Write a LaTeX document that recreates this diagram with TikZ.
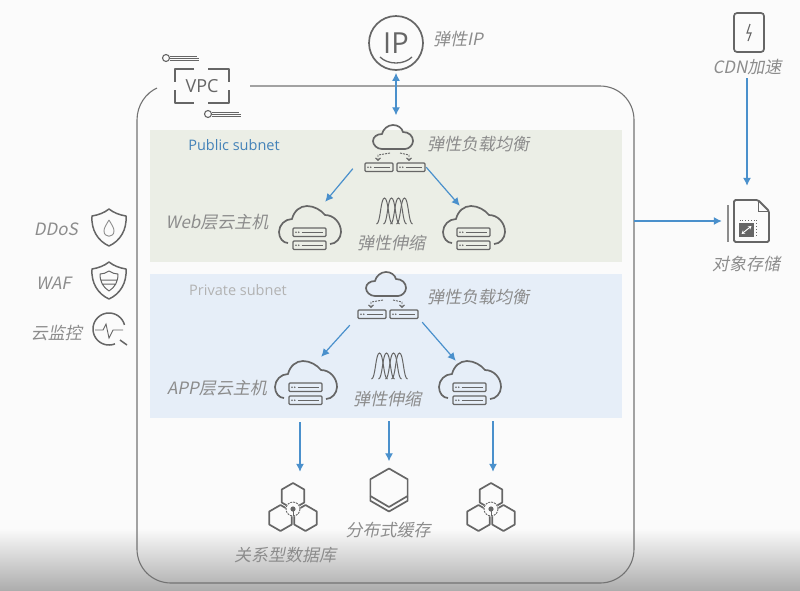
\documentclass[tikz,border=0pt]{standalone}
\usepackage{fontspec}
\usetikzlibrary{arrows.meta}
\newfontfamily\cjk[FakeSlant=0.2]{Noto Sans CJK SC}
\newfontfamily\lat{Open Sans}
\definecolor{pagebg}{HTML}{FBFBFB}
\definecolor{pubbg}{HTML}{EBEEE6}
\definecolor{pribg}{HTML}{E6EEF8}
\definecolor{iconc}{HTML}{666666}
\definecolor{labelc}{HTML}{8C8C8C}
\definecolor{arrowc}{HTML}{4A90CC}
\newcommand{\srvbar}[3]{
  \draw[iconline,rounded corners=1pt] (#1,#2) rectangle ++(#3,8.5);
  \fill[iconc] (#1+3,#2+4.2) circle (0.9) (#1+5.8,#2+4.2) circle (0.9);
  \draw[thinline] (#1+8.5,#2+4.2) -- ++(#3-11.5,0);
}
\newcommand{\hexpath}[3]{
  \draw[iconline,line width=1.7pt] (#1,#2-#3) -- ++(0.866*#3,0.5*#3) -- ++(0,#3) -- ++(-0.866*#3,0.5*#3) -- ++(-0.866*#3,-0.5*#3) -- ++(0,-#3) -- cycle;
}
\tikzset{
  cloudsrv/.pic={
    \draw[iconline,line width=1.7pt] (-22,15) .. controls (-27,15) and (-31,10) .. (-31,4) .. controls (-31,-3) and (-25,-9) .. (-18,-9) .. controls (-16,-17) and (-10,-22) .. (-3,-22) .. controls (4,-22) and (11,-18) .. (15,-13) .. controls (24,-13) and (31,-5) .. (31,4) .. controls (31,10) and (26,16) .. (20,16);
    \srvbar{-17}{0}{33}
    \srvbar{-17}{13}{33}
  },
  cloudlb/.pic={
    \draw[iconline,line width=1.7pt] (-13,1) .. controls (-18,1) and (-22,-3) .. (-22,-7) .. controls (-22,-11) and (-18,-14) .. (-13,-14) .. controls (-12,-19) and (-7,-23) .. (-2,-23) .. controls (3,-23) and (7,-20) .. (8,-16) .. controls (14,-16) and (18,-12) .. (18,-7) .. controls (18,-3) and (14,1) .. (10,1) -- cycle;
    \draw[thinline,dash pattern=on 2pt off 1pt,-{Straight Barb[length=2.5pt,width=5pt]}] (-5,5) -- (-17,7) -- (-17,13);
    \draw[thinline,dash pattern=on 2pt off 1pt,-{Straight Barb[length=2.5pt,width=5pt]}] (5,5) -- (14,7) -- (14,13);
    \srvbar{-30}{15}{28}
    \srvbar{2}{15}{28}
  },
  scalecurve/.pic={
    \foreach \c in {-10,-3,4,10}{
      \draw[thinline,line width=1pt] (\c-8,13) .. controls (\c-4,13) and (\c-4,-13) .. (\c,-13) .. controls (\c+4,-13) and (\c+4,13) .. (\c+8,13);
    }
  },
  dbicon/.pic={
    \hexpath{0}{-12}{13}
    \hexpath{-12.5}{10}{13}
    \hexpath{12.5}{10}{13}
    \fill[pagebg] (0,1) circle (7.5);
    \draw[thinline,dash pattern=on 2pt off 1pt] (0,1) circle (7);
    \fill[iconc] (0,1) circle (2.6);
    \draw[thinline] (0,1) -- (0,8);
  },
  cacheicon/.pic={
    \hexpath{0}{0}{21.5}
    \draw[iconline,line width=1.7pt] (-18.6,6) -- (0,17) -- (18.6,6);
  },
  shieldout/.pic={
    \draw[iconline,line width=1.5pt] (0,-18) .. controls (5,-14) and (11,-12) .. (17,-11) .. controls (18,3) and (11,14) .. (0,19) .. controls (-11,14) and (-18,3) .. (-17,-11) .. controls (-11,-12) and (-5,-14) .. cycle;
  },
  watchicon/.pic={
    \draw[iconline,line width=1.5pt] plot[domain=68:345,samples=40,smooth] ({16*cos(\x)},{16*sin(\x)});
    \draw[iconline,line width=1.5pt] (11,11) -- (18,16);
    \draw[thinline] (-14,1) -- (-6,1) -- (-3,-5) -- (0,9) -- (4,1) -- (14,1);
  },
  bitlines/.pic={
    \draw[thinline,line width=1.1pt] (0,0) circle (3.5);
    \draw[thinline,line width=0.7pt] (4,-2) -- (31,-2) (4,0) -- (33,0) (4,2) -- (33,2);
  },
  fileicon/.pic={
    \draw[iconline,color=labelc] (-20.5,-16) -- (-20.5,21);
    \draw[iconline,line width=1.8pt,rounded corners=1.5pt] (-14.5,21) -- (-14.5,-21) -- (9.5,-21) -- (20.5,-10) -- (20.5,21) -- cycle;
    \draw[thinline] (9.5,-21) -- (9.5,-10) -- (20.5,-10);
    \fill[iconc] (-10,2) rectangle (5.5,16);
    \draw[white,line width=0.9pt,{Stealth[length=3.5pt,width=4pt]}-{Stealth[length=3.5pt,width=4pt]}] (-7,13) -- (3,5);
    \draw[thinline,dotted] (-9,-1) -- (8,-1) -- (8,15);
  }
}
\begin{document}
\begin{tikzpicture}[x=1pt,y=-1pt]
\tikzstyle{iconline}=[draw=iconc,line width=1.3pt,line join=round]
\tikzstyle{thinline}=[draw=iconc,line width=0.9pt]
\tikzstyle{iconbox}=[rectangle,inner sep=0pt,minimum width=60pt,minimum height=47pt]
\tikzstyle{lbl}=[text=labelc,inner sep=0pt,font=\cjk\fontsize{17}{17}\selectfont]
\tikzstyle{blue arrow}=[draw=arrowc,line width=1.2pt,-{Latex[length=8pt,width=8pt]}]
\useasboundingbox (0,0) rectangle (800,590);
\fill[pagebg] (0,0) rectangle (800,590);
\shade[top color=pagebg,bottom color=black!32] (0,528) rectangle (800,590);
\node[rectangle,fill=pubbg,minimum width=472pt,minimum height=132pt,inner sep=0pt] (pubnet) at (386,196) {};
\node[rectangle,fill=pribg,minimum width=472pt,minimum height=144pt,inner sep=0pt] (prinet) at (386,346) {};
\draw[draw=black!55,line width=1.1pt] (250,86) -- (600,86) .. controls (619,86) and (634,101) .. (634,120) -- (634,549) .. controls (634,568) and (619,583) .. (600,583) -- (171,583) .. controls (152,583) and (137,568) .. (137,549) -- (137,120) .. controls (137,105) and (146,93) .. (157,88);
\coordinate (vpcedge) at (634,221);

\node[rectangle,inner sep=0pt,minimum width=54pt,minimum height=34pt,text=iconc,font=\lat\fontsize{18}{18}\selectfont] (vpc) at (202,86) {VPC};
\draw[iconline,line width=1.8pt] (194,69) -- (175,69) -- (175,82) (175,90) -- (175,103) -- (194,103) (208,69) -- (229,69) -- (229,82) (229,90) -- (229,103) -- (208,103);
\pic at (166,58) {bitlines};
\pic at (208,114) {bitlines};

\node[circle,draw=iconc,line width=1.7pt,minimum size=54pt,inner sep=0pt,text=iconc,font=\lat\fontsize{29}{29}\selectfont] (ip) at (396,43) {IP};
\draw[iconline] (380,57) .. controls (388,65) and (404,65) .. (412,57);
\node[lbl,anchor=west] (iplbl) at (433,39) {弹性IP};

\node[rectangle,inner sep=0pt,minimum width=30pt,minimum height=39pt,draw=iconc,line width=1.7pt,rounded corners=3pt] (cdn) at (749,32.5) {};
\draw[thinline,line width=1.1pt] (750,24) -- (747,33) -- (751,33) -- (748,41);
\node[lbl] (cdnlbl) at (747,67) {CDN加速};

\node[iconbox,minimum width=41pt,minimum height=42pt] (obs) at (748.5,221) {};
\pic at (obs) {fileicon};
\node[lbl] (obslbl) at (746,264) {对象存储};

\node[text=arrowc!90!black,inner sep=0pt,font=\lat\fontsize{14.5}{15}\selectfont] (publbl) at (234,145) {Public subnet};
\node[text=black!30,inner sep=0pt,font=\lat\fontsize{14.5}{15}\selectfont] (prilbl) at (238,290) {Private subnet};

\node[iconbox] (lbpub) at (395,148) {};
\pic at (lbpub) {cloudlb};
\node[lbl,anchor=west] (lbpublbl) at (427,144) {弹性负载均衡};
\node[iconbox,minimum width=62pt,minimum height=46pt] (webl) at (310,228) {};
\pic at (webl) {cloudsrv};
\node[iconbox,minimum width=62pt,minimum height=46pt] (webr) at (474,228) {};
\pic at (webr) {cloudsrv};
\node[lbl] (weblbl) at (217,222) {Web层云主机};
\node[iconbox,minimum width=36pt,minimum height=27pt] (scalepub) at (394.5,211) {};
\pic at (scalepub) {scalecurve};
\node[lbl] (scalepublbl) at (391,243) {弹性伸缩};

\node[iconbox] (lbpri) at (388,295) {};
\pic at (lbpri) {cloudlb};
\node[lbl,anchor=west] (lbprilbl) at (427,297) {弹性负载均衡};
\node[iconbox,minimum width=62pt,minimum height=46pt] (appl) at (306,383) {};
\pic at (appl) {cloudsrv};
\node[iconbox,minimum width=62pt,minimum height=46pt] (appr) at (470,383) {};
\pic at (appr) {cloudsrv};
\node[lbl] (applbl) at (217,388) {APP层云主机};
\node[iconbox,minimum width=36pt,minimum height=27pt] (scalepri) at (389.5,366) {};
\pic at (scalepri) {scalecurve};
\node[lbl] (scaleprilbl) at (387,399) {弹性伸缩};

\node[iconbox,minimum width=50pt,minimum height=48pt] (dbl) at (293,508) {};
\pic at (dbl) {dbicon};
\node[iconbox,minimum width=40pt,minimum height=43pt] (cache) at (389,490) {};
\pic at (cache) {cacheicon};
\node[iconbox,minimum width=50pt,minimum height=48pt] (dbr) at (491,508) {};
\pic at (dbr) {dbicon};
\node[lbl] (dblbl) at (285,555) {关系型数据库};
\node[lbl] (cachelbl) at (388,530) {分布式缓存};

\node[iconbox,minimum width=34pt,minimum height=37pt] (ddos) at (109,227) {};
\pic at (ddos) {shieldout};
\draw[iconline,line width=0.9pt,color=labelc] (109,220) .. controls (112,225) and (114,228) .. (114,231) .. controls (114,238) and (104,238) .. (104,231) .. controls (104,228) and (106,225) .. (109,220);
\node[iconbox,minimum width=34pt,minimum height=37pt] (waf) at (109,280) {};
\pic at (waf) {shieldout};
\draw[iconline,line width=1pt,color=iconc] (109,271) .. controls (112,273) and (115,274) .. (118,274) .. controls (118,282) and (115,287) .. (109,291) .. controls (103,287) and (100,282) .. (100,274) .. controls (103,274) and (106,273) .. (109,271) (101,280) -- (117,280) (102,284) -- (116,284);
\node[iconbox,minimum width=34pt,minimum height=34pt] (mon) at (109,329) {};
\pic at (mon) {watchicon};
\node[lbl,anchor=east] (ddoslbl) at (78,229) {DDoS};
\node[lbl,anchor=east] (waflbl) at (71,283) {WAF};
\node[lbl,anchor=east] (monlbl) at (82,333) {云监控};

\draw[blue arrow,{Latex[length=8pt,width=8pt]}-{Latex[length=8pt,width=8pt]},shorten <=2pt,shorten >=9pt] (ip) -- (ip |- lbpub.north);
\draw[blue arrow,shorten >=14pt,shorten <=3pt] (cdnlbl) -- (cdnlbl |- obs.north);
\draw[blue arrow,shorten >=6pt] (vpcedge) -- (obs.west);
\draw[blue arrow] ([xshift=-12pt,yshift=3pt]lbpub.south west) -- ([xshift=-16pt,yshift=3pt]webl.north east);
\draw[blue arrow] ([xshift=1pt,yshift=4.5pt]lbpub.south east) -- ([xshift=17pt,yshift=-1pt]webr.north west);
\draw[blue arrow] ([xshift=-8pt,yshift=-6.5pt]lbpri.south west) -- ([xshift=-16pt,yshift=3pt]appl.north east);
\draw[blue arrow] ([xshift=4pt,yshift=-3.5pt]lbpri.south east) -- ([xshift=17pt,yshift=-1pt]appr.north west);
\draw[blue arrow,shorten <=4pt,shorten >=12pt] ([xshift=7pt]dbl.north |- prinet.south) -- ([xshift=7pt]dbl.north);
\draw[blue arrow,shorten <=3pt,shorten >=7pt] (prinet.south -| cache) -- (cache.north);
\draw[blue arrow,shorten <=3pt,shorten >=12pt] ([xshift=2pt]dbr.north |- prinet.south) -- ([xshift=2pt]dbr.north);
\end{tikzpicture}
\end{document}
